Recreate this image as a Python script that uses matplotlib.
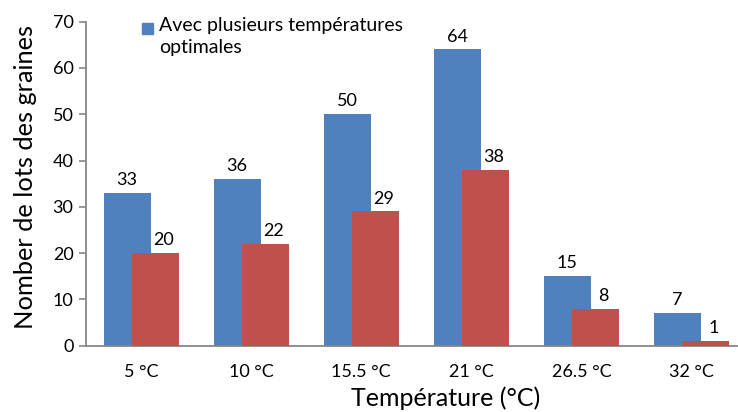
import matplotlib.pyplot as plt
from matplotlib.patches import Rectangle
import numpy as np

# data
categories = ['5 °C', '10 °C', '15.5 °C', '21 °C', '26.5 °C', '32 °C']
multi_opt = [33, 36, 50, 64, 15, 7]     # blue: avec plusieurs températures optimales
single_opt = [20, 22, 29, 38, 8, 1]     # red

blue = '#4F81BD'
red = '#C0504D'
grey = '#868686'

plt.rcParams['font.family'] = ['Lato', 'DejaVu Sans']

W, H = 738, 412
fig = plt.figure(figsize=(W / 100, H / 100), dpi=100)
ax = fig.add_axes([86 / W, 66.3 / H, 652 / W, 324 / H])

x = np.arange(len(categories))
w = 0.427
off = 0.127
b1 = ax.bar(x - off, multi_opt, w, color=blue, zorder=2)
b2 = ax.bar(x + off, single_opt, w, color=red, zorder=3)

# value labels on top of the bars (red ones sit a bit to the right, as in the original)
for bars, vals, dx in ((b1, multi_opt, 0), (b2, single_opt, 6)):
    for rect, v in zip(bars, vals):
        ax.annotate(str(v), (rect.get_x() + rect.get_width() / 2, v),
                    xytext=(dx, 3.5), textcoords='offset points',
                    ha='center', va='bottom', fontsize=13, zorder=4)

ax.set_xlim(-0.5, 5.5 - 8.5 / 110)
ax.set_ylim(0, 70)
ax.set_yticks(range(0, 71, 10))
ax.set_xticks(x)
ax.set_xticklabels(categories)

for s in ('top', 'right'):
    ax.spines[s].set_visible(False)
for s in ('left', 'bottom'):
    ax.spines[s].set_color(grey)
    ax.spines[s].set_linewidth(1.3)
ax.tick_params(axis='y', direction='out', length=5, width=1.2, color=grey,
               labelsize=13, pad=4)
ax.tick_params(axis='x', length=0, labelsize=13, pad=13)

ax.set_ylabel('Nomber de lots des graines', fontsize=18.3)
ax.yaxis.set_label_coords((37 - 86) / 652, 0.52)
ax.set_xlabel('Température (°C)', fontsize=18)
ax.xaxis.set_label_coords((446 - 86) / 652, (345.7 - 386) / 324)

# legend: only the blue series is shown, square aligned with the first line
fig.add_artist(Rectangle((142 / W, 1 - 34 / H), 11 / W, 11 / H,
                         transform=fig.transFigure, color=blue))
fig.text(159 / W, 1 - 17 / H, 'Avec plusieurs températures\noptimales',
         ha='left', va='top', fontsize=14, linespacing=1.35)

plt.savefig('out.png', dpi=100)
